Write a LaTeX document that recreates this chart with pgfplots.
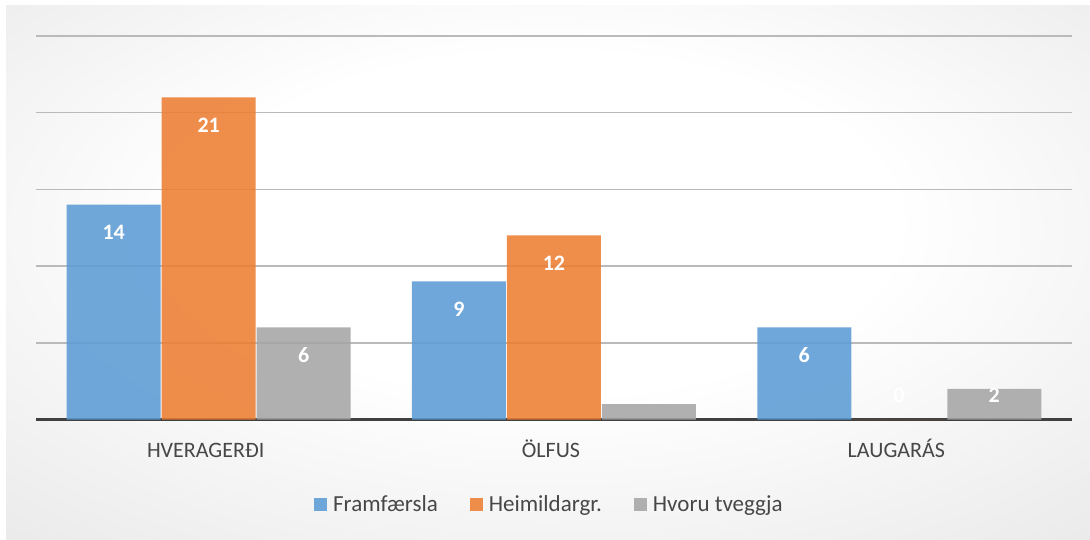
\documentclass[border=0pt]{standalone}
\usepackage{fontspec}
\setmainfont{Carlito}
\usepackage{pgfplots}
\pgfplotsset{compat=1.18}
\definecolor{cblue}{HTML}{5B9BD5}
\definecolor{corange}{HTML}{ED7D31}
\definecolor{cgray}{HTML}{A5A5A5}
\definecolor{ctext}{HTML}{474747}
\pgfdeclareradialshading{chartbg}{\pgfpoint{0bp}{6bp}}{color(0bp)=(white); color(16bp)=(white); color(72bp)=(black!21)}
\begin{document}
\begin{tikzpicture}
\useasboundingbox (0,0) rectangle (1090pt,-540pt);
\fill[white] (0,0) rectangle (1090pt,-540pt);
\shade[shading=chartbg] (6pt,-6pt) rectangle (1090pt,-540pt);
\begin{axis}[
  at={(36pt,-419.5pt)}, anchor=south west,
  scale only axis, width=1036pt, height=383.5pt,
  font=\fontsize{22}{26}\selectfont,
  /pgf/number format/assume math mode=true,
  ybar=1pt, bar width=94pt,
  xmin=-0.5, xmax=2.5, ymin=0, ymax=25,
  xtick={0,1,2}, xticklabels={HVERAGERÐI,ÖLFUS,LAUGARÁS},
  xticklabel style={text=ctext, anchor=north, inner sep=0pt, text height=14pt, text depth=4pt, yshift=-23.5pt, xshift=-3pt},
  ytick={5,10,15,20,25}, yticklabels={},
  ymajorgrids, major grid style={black!27, line width=1.4pt},
  extra y ticks={0}, extra y tick labels={},
  extra y tick style={major grid style={black!75, line width=3pt}},
  axis line style={draw=none}, major tick length=0pt,
  every axis plot/.append style={fill opacity=0.87, draw=none},
  nodes near coords,
  visualization depends on=rawy \as \rawy,
  every node near coord/.append style={text=white, font=\fontsize{22}{26}\selectfont\bfseries, anchor=center, fill opacity=1, text opacity=1,
    yshift={max(-27.5,24-\rawy*15.34)}},
  legend columns=3,
  legend style={at={(0.496,-0.222)}, anchor=center, draw=none, fill=none, text=ctext,
    font=\fontsize{23}{27}\selectfont, inner sep=0pt,
    /tikz/every odd column/.append style={column sep=3pt},
    /tikz/every even column/.append style={column sep=29pt},
    nodes={inner sep=3pt}},
  legend image code/.code={\fill[#1, draw=none] (0pt,-6.5pt) rectangle (13pt,6.5pt);},
]
\addplot[fill=cblue] coordinates {(0,14) (1,9) (2,6)};
\addlegendentry{Framfærsla}
\addplot[fill=corange] coordinates {(0,21) (1,12) (2,0)};
\addlegendentry{Heimildargr.}
\addplot[fill=cgray] coordinates {(0,6) (1,1) (2,2)};
\addlegendentry{Hvoru tveggja}
\end{axis}
\end{tikzpicture}
\end{document}
